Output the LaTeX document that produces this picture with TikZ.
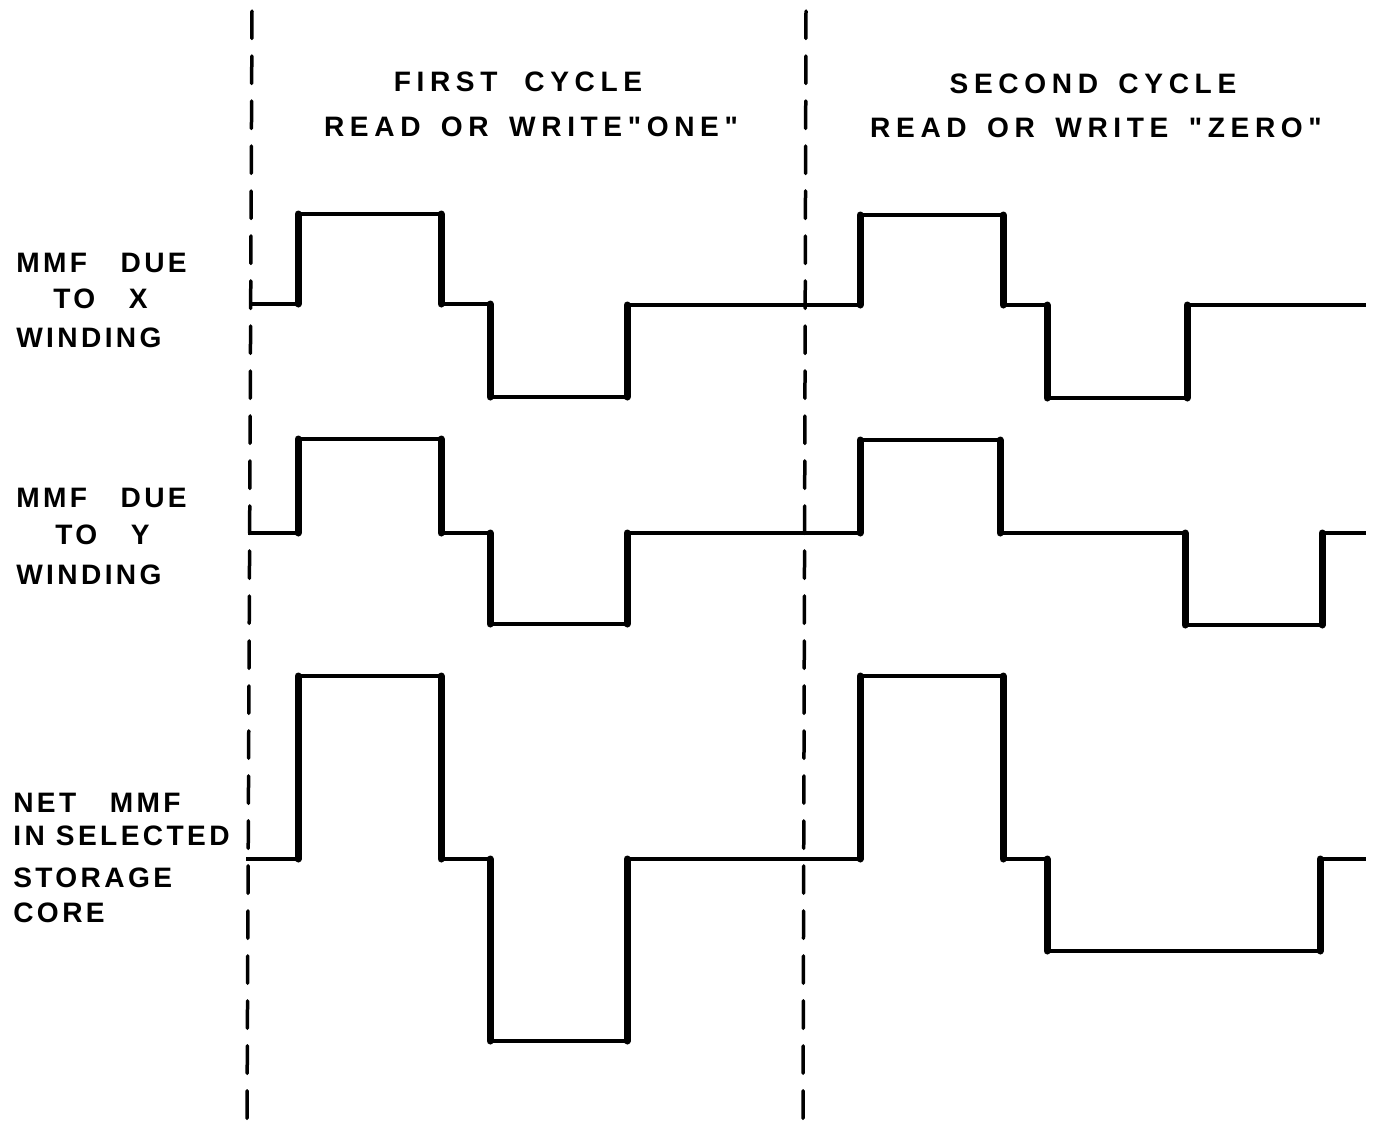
\documentclass[tikz,border=0pt]{standalone}
\usepackage{fontspec}
\newfontfamily\headfont[LetterSpace=20]{Liberation Sans}
\newfontfamily\sidefont[LetterSpace=12]{Liberation Sans}
\newcommand\wgap{\hspace{0.14cm}}

\begin{document}
\begin{tikzpicture}[x=0.02cm,y=-0.02cm,
   head/.style={font=\headfont\bfseries\fontsize{16}{19}\selectfont,inner sep=0pt,anchor=base},
   side/.style={font=\sidefont\bfseries\fontsize{16}{19}\selectfont,inner sep=0pt,anchor=base west},
   divider/.style={line width=0.07cm,line cap=round,dash pattern=on 0.55cm off 0.35cm},
   pulse/.style={line width=0.065cm,line join=round},
   riser/.style={line width=0.14cm,line cap=round}]
\useasboundingbox (0,0) rectangle (1374,1123);
% cycle dividers
\draw[divider] (252,11) -- (247,1120);
\draw[divider] (806,11) -- (803,1120);
% headings
\node[head] (first) at (518,91) {FIRST\ \ CYCLE};
\node[head] (firstrw) at (531,136) {READ \wgap OR \wgap WRITE"ONE"};
\node[head] (second) at (1093,93) {SECOND \wgap CYCLE};
\node[head] (secondrw) at (1096,137) {READ \wgap OR \wgap WRITE \wgap "ZERO"};
% row labels
\node[side] (xa) at (16,272) {MMF\ \ \ DUE};
\node[side] (xb) at (53,308) {TO\ \ \ X};
\node[side] (xc) at (16,347) {WINDING};
\node[side] (ya) at (16,507) {MMF\ \ \ DUE};
\node[side] (yb) at (55,544) {TO\ \ \ Y};
\node[side] (yc) at (16,584) {WINDING};
\node[side] (na) at (13,812) {NET\ \ \ MMF};
\node[side] (nb) at (13,845) {IN SELECTED};
\node[side] (nc) at (13,887) {STORAGE};
\node[side] (nd) at (13,922) {CORE};
% X winding
\draw[pulse] (250,304) -| (298,214) -| (441,304) -| (490,397) -| (627,305)
   -| (860,215) -| (1003,305) -| (1047,398) -| (1187,305) -- (1366,305);
\foreach \x/\a/\b in {298/304/214,441/214/304,490/304/397,627/397/305,
   860/305/215,1003/215/305,1047/305/398,1187/398/305}
   \draw[riser] (\x,\a) -- (\x,\b);
% Y winding
\draw[pulse] (248,533) -| (298,439) -| (441,533) -| (490,624) -| (627,533)
   -| (860,440) -| (1000,533) -| (1185,625) -| (1322,533) -- (1366,533);
\foreach \x/\a/\b in {298/533/439,441/439/533,490/533/624,627/624/533,
   860/533/440,1000/440/533,1185/533/625,1322/625/533}
   \draw[riser] (\x,\a) -- (\x,\b);
% net mmf
\draw[pulse] (246,859) -| (298,676) -| (441,859) -| (490,1041) -| (627,859)
   -| (860,676) -| (1003,859) -| (1047,951) -| (1320,859) -- (1366,859);
\foreach \x/\a/\b in {298/859/676,441/676/859,490/859/1041,627/1041/859,
   860/859/676,1003/676/859,1047/859/951,1320/951/859}
   \draw[riser] (\x,\a) -- (\x,\b);
\end{tikzpicture}
\end{document}
